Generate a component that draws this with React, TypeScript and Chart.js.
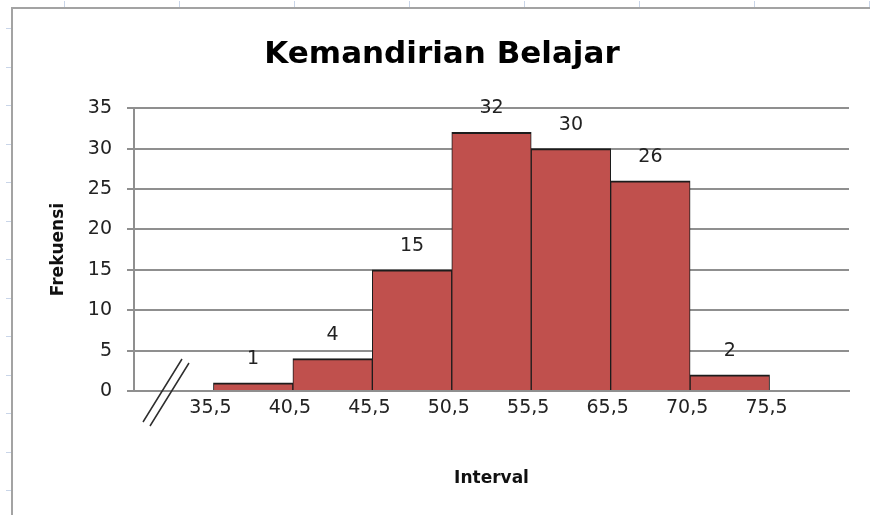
import React, { useEffect, useRef } from 'react';
import { Chart, registerables } from 'chart.js';

Chart.register(...registerables);

const TITLE = 'Kemandirian Belajar';
const X_TITLE = 'Interval';
const Y_TITLE = 'Frekuensi';
// class boundaries printed under the x axis (as in the original, 60,5 is missing)
const boundaryLabels = ['35,5', '40,5', '45,5', '50,5', '55,5', '65,5', '70,5', '75,5'];
// frequency of each class interval
const frequencies = [1, 4, 15, 32, 30, 26, 2];
const yMin = 0;
const yMax = 35;
const yStep = 5;

const FONT = 'DejaVu Sans';

const sheetPlugin = {
  id: 'sheet',
  beforeDraw(chart: any) {
    const { ctx, width, height } = chart;
    ctx.save();
    ctx.fillStyle = '#ffffff';
    ctx.fillRect(0, 0, width, height);
    // faint spreadsheet column / row markers
    ctx.strokeStyle = '#c9d5e8';
    ctx.lineWidth = 1;
    for (let x = 64; x < width; x += 115) {
      ctx.beginPath();
      ctx.moveTo(x + 0.5, 1);
      ctx.lineTo(x + 0.5, 7);
      ctx.stroke();
    }
    for (let y = 28; y < height; y += 38.5) {
      ctx.beginPath();
      ctx.moveTo(6, Math.round(y) + 0.5);
      ctx.lineTo(11, Math.round(y) + 0.5);
      ctx.stroke();
    }
    // chart frame
    ctx.strokeStyle = '#a3a3a3';
    ctx.lineWidth = 2;
    ctx.beginPath();
    ctx.moveTo(12, height);
    ctx.lineTo(12, 8);
    ctx.lineTo(width, 8);
    ctx.stroke();
    ctx.restore();
  },
  afterDraw(chart: any) {
    const { ctx, chartArea, width, height } = chart;
    ctx.save();
    // keep the right margin clean
    ctx.fillStyle = '#ffffff';
    ctx.fillRect(width - 8, 10, 8, height - 10);
    // axis break marks
    const l = chartArea.left;
    const b = chartArea.bottom;
    ctx.strokeStyle = '#2e2e2e';
    ctx.lineWidth = 1.5;
    ctx.beginPath();
    ctx.moveTo(l + 9, b + 31);
    ctx.lineTo(l + 48, b - 32);
    ctx.moveTo(l + 16, b + 35);
    ctx.lineTo(l + 55, b - 28);
    ctx.stroke();
    ctx.restore();
  },
};

const valueLabelPlugin = {
  id: 'valueLabels',
  afterDatasetsDraw(chart: any) {
    const { ctx } = chart;
    const meta = chart.getDatasetMeta(0);
    ctx.save();
    ctx.fillStyle = '#222222';
    ctx.font = `19px "${FONT}"`;
    ctx.textAlign = 'center';
    ctx.textBaseline = 'middle';
    meta.data.forEach((bar: any, i: number) => {
      ctx.fillText(String(frequencies[i]), bar.x, bar.y - 24);
    });
    ctx.restore();
  },
};

export default function App() {
  const ref = useRef<HTMLCanvasElement | null>(null);

  useEffect(() => {
    if (!ref.current) return;
    const gridColor = '#8f8f8f';
    const chart = new Chart(ref.current, {
      type: 'bar',
      data: {
        datasets: [
          {
            data: frequencies.map((f, i) => ({ x: i + 1.5, y: f })),
            backgroundColor: '#C0504D',
            borderColor: '#1c1c1c',
            borderWidth: { top: 2, left: 1, right: 1, bottom: 0 },
            borderSkipped: false,
            barPercentage: 1,
            categoryPercentage: 1,
          },
        ],
      },
      options: {
        animation: false,
        responsive: false,
        devicePixelRatio: 1,
        layout: { padding: { left: 35, right: 21, top: 0, bottom: 0 } },
        plugins: {
          legend: { display: false },
          tooltip: { enabled: false },
          title: {
            display: true,
            text: TITLE,
            color: '#000000',
            font: { family: FONT, size: 31, weight: 'bold' },
            padding: { top: 36, bottom: 35 },
          },
        },
        scales: {
          x: {
            type: 'linear',
            min: 0,
            max: boundaryLabels.length + 1,
            offset: false,
            grid: { display: false, drawTicks: false, offset: false },
            border: { display: true, color: gridColor, width: 2 },
            ticks: {
              stepSize: 1,
              autoSkip: false,
              maxRotation: 0,
              padding: 6,
              labelOffset: -3,
              color: '#222222',
              font: { family: FONT, size: 19 },
              callback: (v: any) => boundaryLabels[Number(v) - 1] ?? '',
            },
            title: {
              display: true,
              text: X_TITLE,
              color: '#111111',
              font: { family: FONT, size: 17, weight: 'bold' },
              padding: { top: 0, bottom: 26 },
            },
            afterFit: (s: any) => {
              s.height = 124;
            },
          },
          y: {
            min: yMin,
            max: yMax,
            ticks: {
              stepSize: yStep,
              padding: 15,
              color: '#222222',
              font: { family: FONT, size: 19 },
            },
            grid: { color: gridColor, lineWidth: 2, tickLength: 7, tickColor: gridColor },
            border: { display: true, color: gridColor, width: 2 },
            title: {
              display: true,
              text: Y_TITLE,
              color: '#111111',
              font: { family: FONT, size: 17, weight: 'bold' },
              padding: { top: 13, bottom: 0 },
            },
            afterFit: (s: any) => {
              s.width = 99;
            },
          },
        },
      },
      plugins: [sheetPlugin, valueLabelPlugin],
    } as any);
    return () => chart.destroy();
  }, []);

  return (
    <div style={{ position: 'fixed', left: 0, top: 0, width: 870, height: 515, background: '#fff' }}>
      <canvas ref={ref} width={870} height={515} style={{ width: 870, height: 515, display: 'block' }} />
    </div>
  );
}
